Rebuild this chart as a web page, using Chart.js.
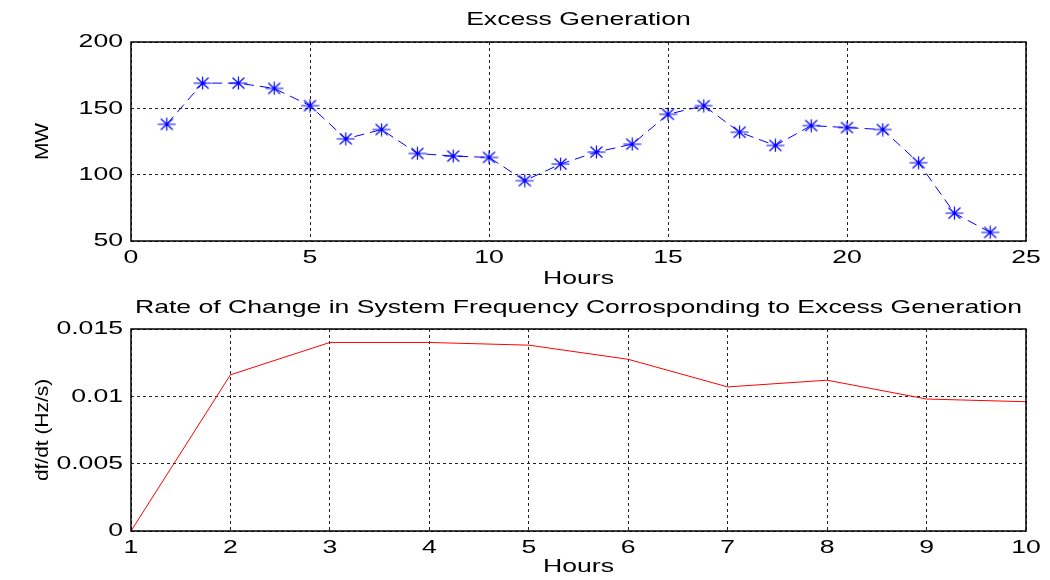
<!DOCTYPE html>
<html>
<head>
<meta charset="utf-8">
<script src="https://cdn.jsdelivr.net/npm/chart.js@4/dist/chart.umd.min.js"></script>
<style>
  body { margin: 0; background: #fff; }
  #wrap { position: relative; width: 1050px; height: 580px; }
  canvas { position: absolute; left: 0; }
</style>
</head>
<body>
<div id="wrap">
  <canvas id="top" width="1050" height="290" style="top:0"></canvas>
  <canvas id="bottom" width="1050" height="290" style="top:290px"></canvas>
</div>
<script>
// top plot data: excess generation per hour
var hours = [1,2,3,4,5,6,7,8,9,10,11,12,13,14,15,16,17,18,19,20,21,22,23,24];
var excessMW = [138,169,169,165,152,127,134,116,114,113,95.5,108,117,123,145.5,152,132,122,137,135.5,134,109,71,56.5];
var topXTicks = [0,5,10,15,20,25];
var topYTicks = [50,100,150,200];

// bottom plot data: df/dt
var hours2 = [1,2,3,4,5,6,7,8,9,10];
var dfdt = [0,0.0116,0.0140,0.0140,0.0138,0.01275,0.0107,0.0112,0.0098,0.0096];
var botXTicks = [1,2,3,4,5,6,7,8,9,10];
var botYTicks = [0,0.005,0.01,0.015];

Chart.defaults.font.family = "'Liberation Sans', Arial, sans-serif";
Chart.defaults.font.size = 19;
Chart.defaults.color = '#000';

/* the picture's text is stretched sideways, so widen horizontal text */
var TEXT_SX = 1.4;
var ROT_SX = 1.1;
function widenText(canvas) {
  var c = canvas.getContext('2d');
  var fill = c.fillText.bind(c);
  var measure = c.measureText.bind(c);
  c.fillText = function(t, x, y, w) {
    var m = c.getTransform();
    var sx = (m.b !== 0 || m.c !== 0) ? ROT_SX : TEXT_SX;
    c.save();
    c.translate(x, y);
    c.scale(sx, 1);
    fill(t, 0, 0);
    c.restore();
  };
  c.measureText = function(t) {
    var r = measure(t);
    return { width: r.width * TEXT_SX, actualBoundingBoxAscent: r.actualBoundingBoxAscent, actualBoundingBoxDescent: r.actualBoundingBoxDescent };
  };
}

/* box around the plot area, like matlab axes */
var boxPlugin = {
  id: 'box',
  afterDraw: function(chart) {
    var a = chart.chartArea, ctx = chart.ctx;
    ctx.save();
    ctx.strokeStyle = '#000';
    ctx.lineWidth = 1.5;
    ctx.strokeRect(a.left, a.top, a.right - a.left, a.bottom - a.top);
    ctx.restore();
  }
};

// asterisk marker, a bit wider than tall like the picture
var star = document.createElement('canvas');
star.width = 19; star.height = 14;
(function() {
  var c = star.getContext('2d');
  c.strokeStyle = '#0000ff';
  c.lineWidth = 1.2;
  c.beginPath();
  c.moveTo(0.5, 7); c.lineTo(18.5, 7);
  c.moveTo(9.5, 0.5); c.lineTo(9.5, 13.5);
  c.moveTo(3.5, 1.5); c.lineTo(15.5, 12.5);
  c.moveTo(15.5, 1.5); c.lineTo(3.5, 12.5);
  c.stroke();
})();

function fmt(v) {
  return String(+v.toFixed(4));
}

function makeScales(xTicks, yTicks, yTitle, xBottomPad) {
  var grid = { color: '#222', lineWidth: 1, drawTicks: false };
  var border = { display: false, dash: [3,3] };
  return {
    x: {
      type: 'linear',
      min: xTicks[0], max: xTicks[xTicks.length-1],
      afterBuildTicks: function(s){ s.ticks = xTicks.map(function(v){ return {value: v}; }); },
      afterFit: function(s){ s.height = 49; },
      grid: grid,
      border: border,
      ticks: { padding: 5, maxRotation: 0, callback: fmt },
      title: { display: true, text: 'Hours', padding: { top: 0, bottom: xBottomPad } }
    },
    y: {
      min: yTicks[0], max: yTicks[yTicks.length-1],
      afterBuildTicks: function(s){ s.ticks = yTicks.map(function(v){ return {value: v}; }); },
      afterFit: function(s){ s.width = 131; },
      grid: grid,
      border: border,
      ticks: { padding: 8, callback: fmt },
      title: { display: true, text: yTitle, padding: { top: 31, bottom: 0 } }
    }
  };
}

var ctx1 = document.getElementById('top');
widenText(ctx1);
var chart1 = new Chart(ctx1, {
  type: 'line',
  data: {
    datasets: [{
      data: hours.map(function(h, i){ return {x: h, y: excessMW[i]}; }),
      borderColor: '#0000ff',
      backgroundColor: '#0000ff',
      borderWidth: 1,
      borderDash: [10,6],
      pointStyle: star,
      tension: 0
    }]
  },
  options: {
    responsive: false,
    animation: false,
    layout: { padding: { left: 0, right: 24, top: 0, bottom: 0 } },
    plugins: {
      legend: { display: false },
      tooltip: { enabled: false },
      title: { display: true, fullSize: false, text: 'Excess Generation', font: { size: 19, weight: 'normal' }, padding: { top: 8, bottom: 11.2 } }
    },
    scales: makeScales(topXTicks, topYTicks, 'MW', 0)
  },
  plugins: [boxPlugin]
});

var ctx2 = document.getElementById('bottom');
widenText(ctx2);
var chart2 = new Chart(ctx2, {
  type: 'line',
  data: {
    datasets: [{
      data: hours2.map(function(h, i){ return {x: h, y: dfdt[i]}; }),
      borderColor: '#ff0000',
      borderWidth: 1,
      pointRadius: 0,
      tension: 0
    }]
  },
  options: {
    responsive: false,
    animation: false,
    layout: { padding: { left: 0, right: 24, top: 0, bottom: 0 } },
    plugins: {
      legend: { display: false },
      tooltip: { enabled: false },
      title: { display: true, fullSize: false, text: 'Rate of Change in System Frequency Corrosponding to Excess Generation', font: { size: 19, weight: 'normal' }, padding: { top: 6, bottom: 10.2 } }
    },
    scales: makeScales(botXTicks, botYTicks, 'df/dt (Hz/s)', 1.6)
  },
  plugins: [boxPlugin]
});
</script>
</body>
</html>
